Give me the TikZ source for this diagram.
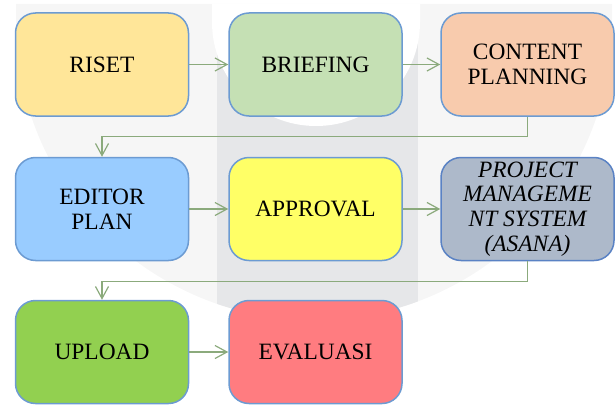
\documentclass[tikz,border=0pt]{standalone}
\usepackage{fontspec}
\setmainfont{Liberation Serif}
\newfontfamily\stagefont{Liberation Serif}
\usetikzlibrary{arrows.meta}

\definecolor{boxline}{HTML}{6C9BD2}
\definecolor{pmsline}{HTML}{5A82C4}
\definecolor{flowline}{HTML}{8BAA7C}
\definecolor{wmlight}{HTML}{F6F6F6}
\definecolor{wmdark}{HTML}{E6E7E9}
\definecolor{riset}{HTML}{FFE699}
\definecolor{briefing}{HTML}{C5E0B4}
\definecolor{content}{HTML}{F8CBAD}
\definecolor{editor}{HTML}{99CCFF}
\definecolor{approval}{HTML}{FFFF66}
\definecolor{pms}{HTML}{ADB9CA}
\definecolor{upload}{HTML}{92D050}
\definecolor{evaluasi}{HTML}{FF7C80}

\begin{document}
\begin{tikzpicture}[x=0.5pt, y=0.5pt,
        stage/.style={draw=boxline, line width=0.75pt, rounded corners=10pt,
            minimum width=86.5pt, minimum height=51.5pt, inner sep=0pt,
            align=center, font=\stagefont\fontsize{11.7}{12.4}\selectfont},
        flow/.style={draw=flowline, line width=0.6pt,
            -{Straight Barb[length=6pt, width=6.5pt]}}]
        \useasboundingbox (0,0) rectangle (615,408);

        % watermark in the background
        \fill[wmlight] (16,404) -- (16,386) arc (180:360:298) -- (612,404) -- cycle;
        \begin{scope}
            \clip (16,404) -- (16,386) arc (180:360:298) -- (612,404) -- cycle;
            \fill[wmdark] (217,0) rectangle (418,404);
        \end{scope}
        \fill[white] (212,404) -- (212,386) arc (180:360:104) -- (420,404) -- cycle;

        \node[stage, fill=riset] (riset) at (102,343.5) {RISET};
        \node[stage, fill=briefing] (briefing) at (315.5,343.5) {BRIEFING};
        \node[stage, fill=content] (content) at (527.5,343.5) {CONTENT\\PLANNING};

        \node[stage, fill=editor] (editor) at (102,199) {EDITOR\\PLAN};
        \node[stage, fill=approval] (approval) at (315.5,199) {APPROVAL};
        \node[stage, draw=pmsline, fill=pms, font=\stagefont\fontsize{11.7}{12.4}\selectfont\itshape] (pms) at (527.5,199)
            {PROJECT\\MANAGEME\\NT SYSTEM\\(ASANA)};

        \node[stage, fill=upload] (upload) at (102,56) {UPLOAD};
        \node[stage, fill=evaluasi] (evaluasi) at (315.5,56) {EVALUASI};

        \draw[flow] (riset) -- (briefing);
        \draw[flow] (briefing) -- (content);
        \draw[flow] (content.south) -- ++(0,-20) -| (editor.north);
        \draw[flow] (editor) -- (approval);
        \draw[flow] (approval) -- (pms);
        \draw[flow] (pms.south) -- ++(0,-20) -| (upload.north);
        \draw[flow] (upload) -- (evaluasi);
    \end{tikzpicture}
\end{document}
